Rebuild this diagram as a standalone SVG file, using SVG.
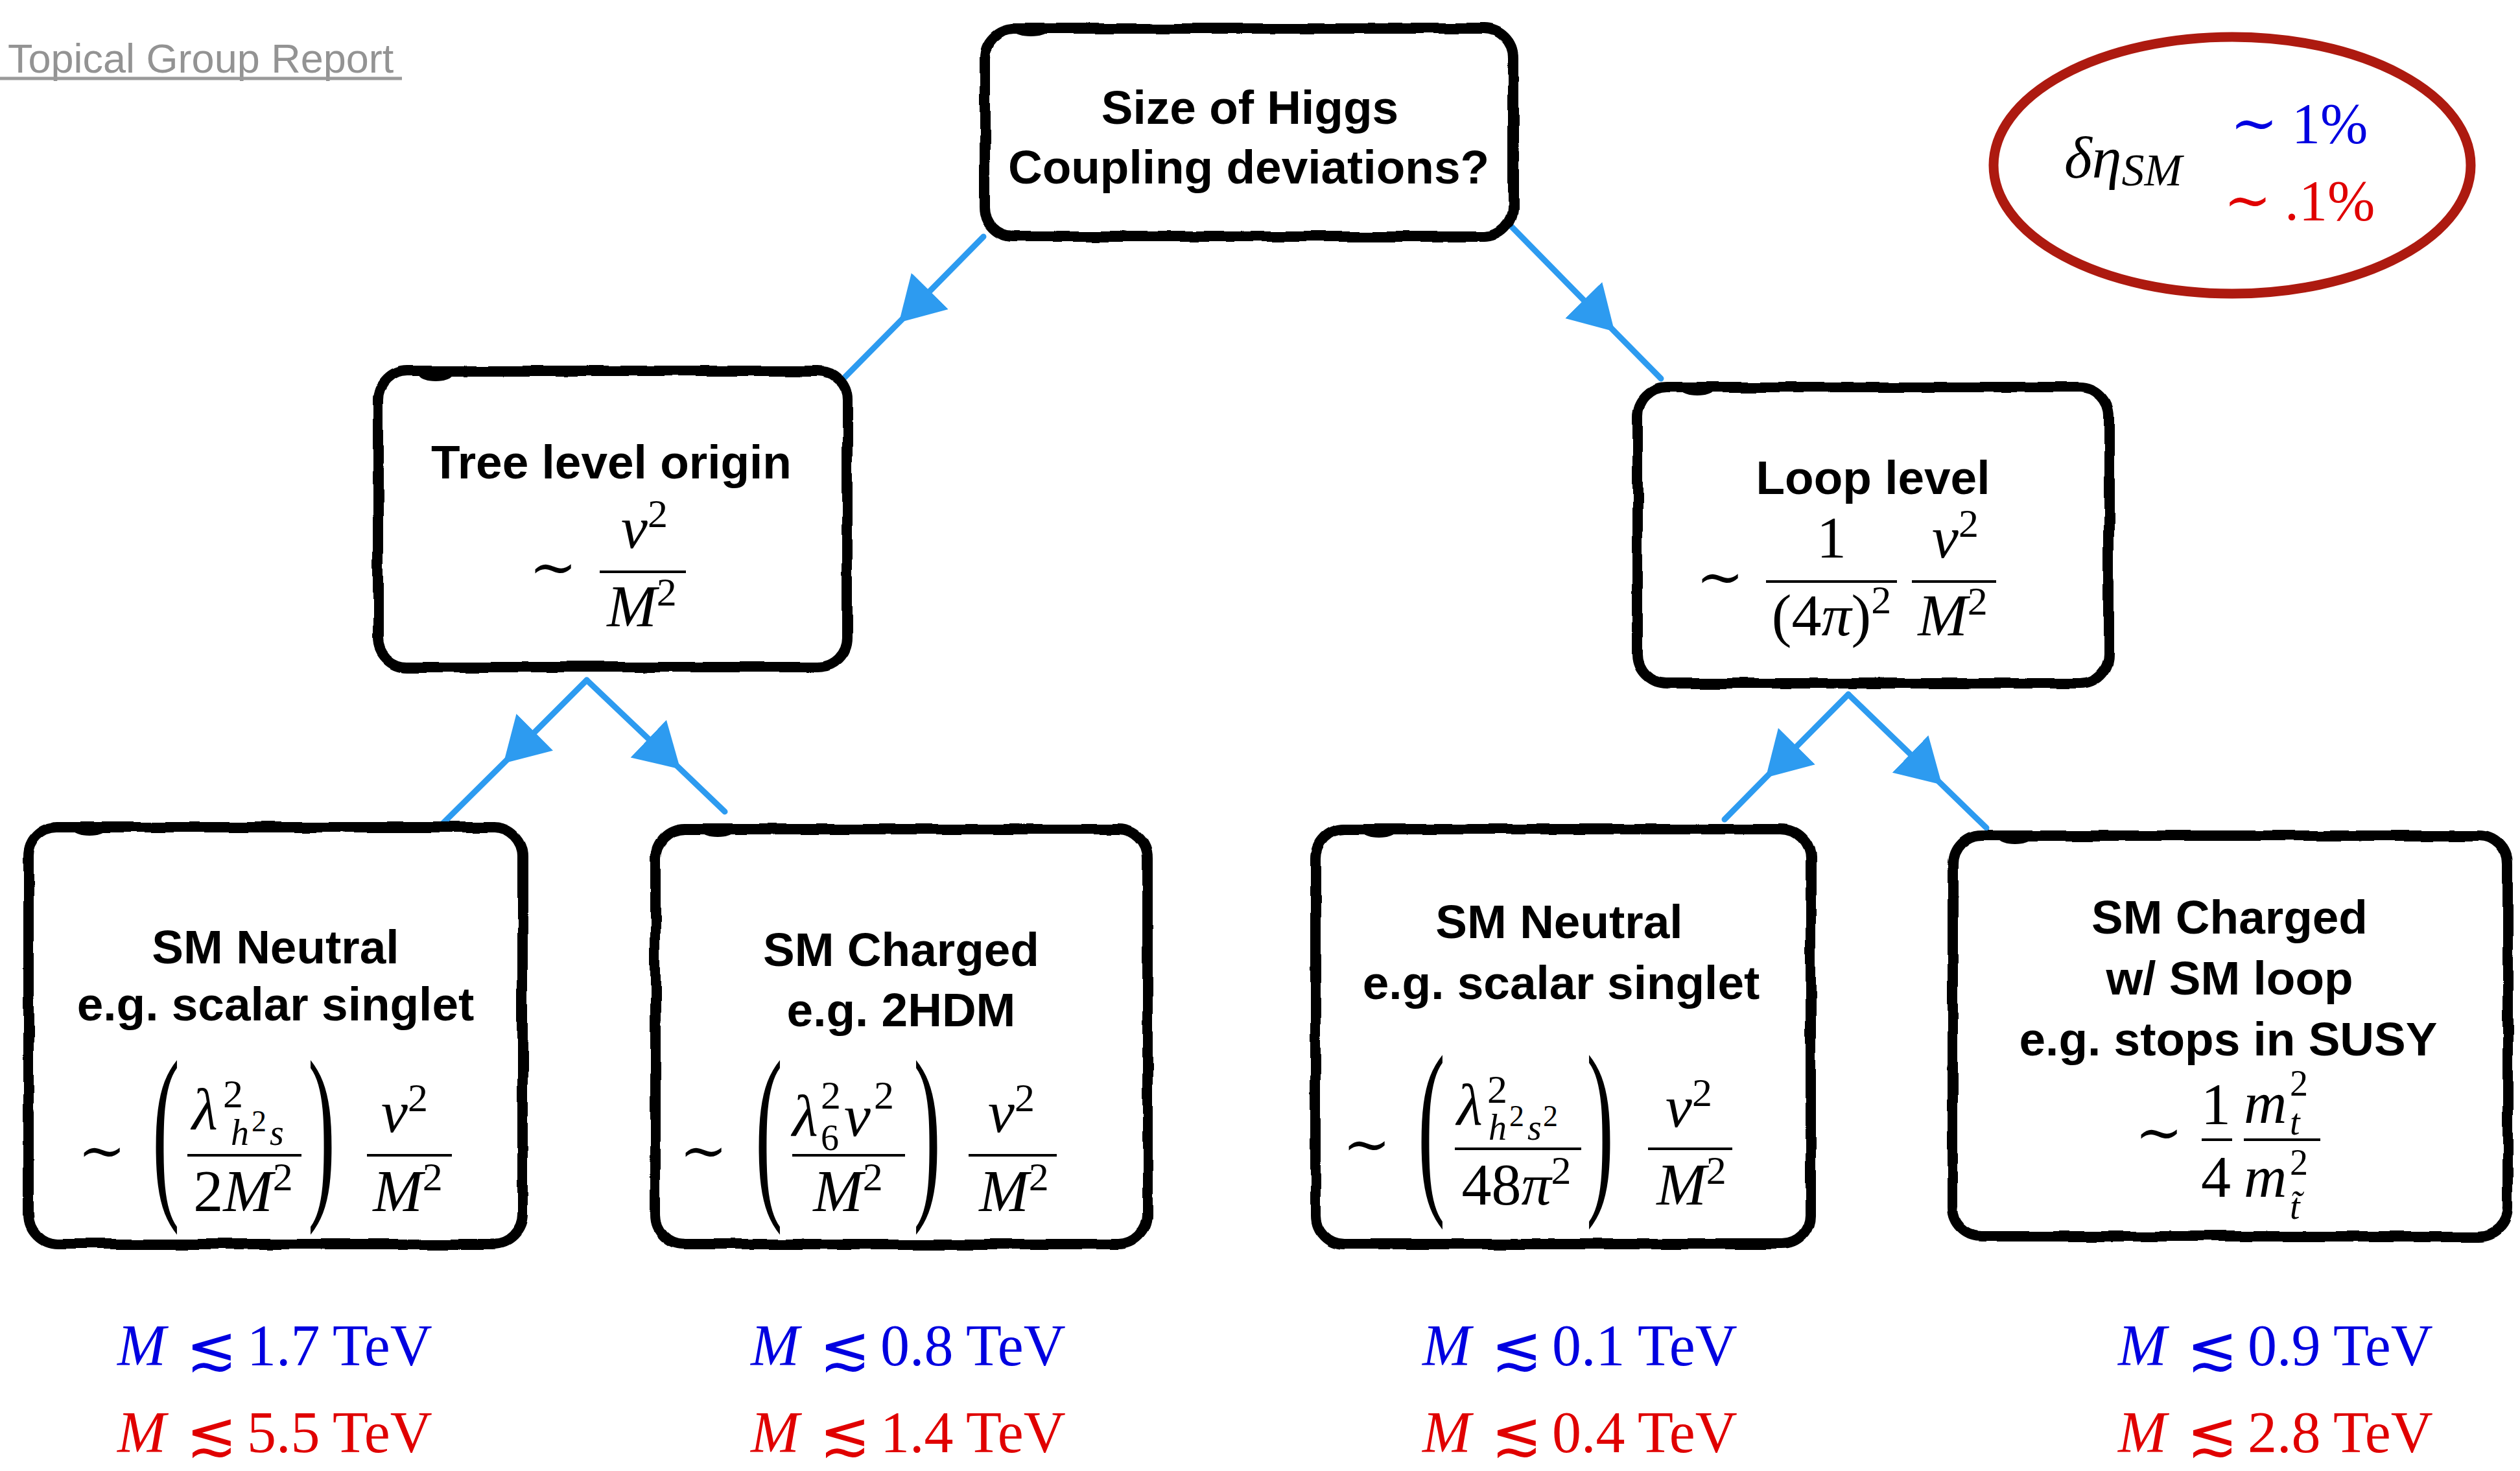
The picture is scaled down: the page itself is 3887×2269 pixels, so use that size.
<svg xmlns="http://www.w3.org/2000/svg" width="3887" height="2269" viewBox="0 0 3887 2269">
<defs>
<style>
.box{fill:#fff;stroke:#000;stroke-width:16;filter:url(#rough)}
.blob{fill:#000}
.lbl{font-family:"Liberation Sans",Arial,sans-serif;font-weight:700;font-size:73px;text-anchor:middle;fill:#000}
.m{font-family:"Liberation Serif","DejaVu Serif",serif;font-size:92px;fill:#000}
.i{font-style:italic}
.s{font-size:62px}
.s2{font-size:56px}
.ss{font-size:46px}
.mid{text-anchor:middle}
.sym{font-family:"DejaVu Serif","DejaVu Sans",serif;font-style:normal}
.tl{font-size:88px}
.le{font-size:94px}
.bar{stroke:#000;stroke-width:4}
.par{font-family:"Liberation Serif","DejaVu Serif",serif;font-size:90px;text-anchor:middle;fill:#000}
.conn{stroke:#2d9bf0;stroke-width:9;fill:none;stroke-linecap:round;marker-mid:url(#ah)}
.lim{font-family:"Liberation Serif","DejaVu Serif",serif;font-size:90px}
.blue{fill:#0000e0}
.red{fill:#e00000}
</style>
<filter id="rough" x="-3%" y="-3%" width="106%" height="106%">
<feTurbulence type="fractalNoise" baseFrequency="0.018" numOctaves="2" seed="4" result="n"/>
<feDisplacementMap in="SourceGraphic" in2="n" scale="7" xChannelSelector="R" yChannelSelector="G"/>
</filter>
<marker id="ah" markerUnits="userSpaceOnUse" markerWidth="74" markerHeight="90" viewBox="0 -45 74 90" refX="66" refY="0" orient="auto">
<path d="M0,-40 L68,0 L0,40 Z" fill="#2d9bf0"/>
</marker>
</defs>
<rect width="3887" height="2269" fill="#fff"/>

<g id="title">
<text x="12" y="112" style="font-family:'Liberation Sans',Arial,sans-serif;font-size:63px;fill:#939393">Topical Group Report</text>
<line x1="0" y1="121" x2="620" y2="121" stroke="#9a9a9a" stroke-width="5"/>
</g>

<g id="connectors">
<path class="conn" d="M1517,365 L1388,496 L1298,587"/>
<path class="conn" d="M2327,345 L2489,510 L2562,584"/>
<path class="conn" d="M905,1049 L778,1176 L669,1284"/>
<path class="conn" d="M905,1049 L1048,1185 L1118,1252"/>
<path class="conn" d="M2851,1071 L2725,1198 L2660,1264"/>
<path class="conn" d="M2851,1071 L2994,1209 L3064,1277"/>
</g>

<g id="top">
<rect class="box" x="1519" y="44" width="815" height="321" rx="45"/>
<ellipse class="blob" cx="1590" cy="46" rx="28" ry="10"/>
<text class="lbl" x="1928" y="191">Size of Higgs</text>
<text class="lbl" x="1926" y="283">Coupling deviations?</text>
</g>

<g id="sm-ellipse">
<ellipse cx="3443" cy="255" rx="368" ry="198" fill="none" stroke="#ad1a10" stroke-width="15"/>
<text class="m i" x="3184" y="274" style="font-size:92px">δη<tspan style="font-size:70px" dy="12">SM</tspan></text>
<text class="m blue" y="220" style="font-size:88px"><tspan class="sym" x="3440">∼</tspan><tspan x="3535">1%</tspan></text>
<text class="m red" y="339" style="font-size:88px"><tspan class="sym" x="3430">∼</tspan><tspan x="3524">.1%</tspan></text>
</g>

<g id="tree">
<rect class="box" x="583" y="572" width="724" height="457" rx="45"/>
<ellipse class="blob" cx="672" cy="578" rx="26" ry="10"/>
<text class="lbl" x="943" y="738">Tree level origin</text>
<text class="m sym tl mid" x="853" y="905">∼</text>
<text class="m mid" x="994" y="845"><tspan class="i">v</tspan><tspan class="s" dy="-32">2</tspan></text>
<line class="bar" x1="925" y1="882" x2="1058" y2="882"/>
<text class="m mid" x="990" y="966"><tspan class="i">M</tspan><tspan class="s" dy="-32">2</tspan></text>
</g>

<g id="loop">
<rect class="box" x="2526" y="597" width="727" height="457" rx="45"/>
<ellipse class="blob" cx="2618" cy="600" rx="26" ry="10"/>
<text class="lbl" x="2889" y="762">Loop level</text>
<text class="m sym tl mid" x="2653" y="920">∼</text>
<text class="m mid" x="2825" y="860">1</text>
<line class="bar" x1="2724" y1="897" x2="2926" y2="897"/>
<text class="m mid" x="2825" y="980">(4<tspan class="i">π</tspan>)<tspan class="s" dy="-34">2</tspan></text>
<text class="m mid" x="3016" y="860"><tspan class="i">v</tspan><tspan class="s" dy="-32">2</tspan></text>
<line class="bar" x1="2949" y1="897" x2="3079" y2="897"/>
<text class="m mid" x="3012" y="980"><tspan class="i">M</tspan><tspan class="s" dy="-32">2</tspan></text>
</g>

<g id="neutral-tree">
<rect class="box" x="44" y="1276" width="762" height="643" rx="45"/>
<ellipse class="blob" cx="138" cy="1279" rx="26" ry="10"/>
<text class="lbl" x="425" y="1486">SM Neutral</text>
<text class="lbl" x="425" y="1574">e.g. scalar singlet</text>
<text class="m sym tl mid" x="157" y="1805">∼</text>
<text class="par" transform="translate(256,1772) scale(1.4,3.3)" y="21">(</text>
<text class="m" y="1742"><tspan class="i" x="296">λ</tspan><tspan class="s" x="344" y="1708">2</tspan><tspan class="s2 i" x="356" y="1766">h</tspan><tspan class="ss" x="388" y="1745">2</tspan><tspan class="s2 i" x="416" y="1766">s</tspan></text>
<line class="bar" x1="289" y1="1782" x2="465" y2="1782"/>
<text class="m mid" x="375" y="1868">2<tspan class="i">M</tspan><tspan class="s" dy="-32">2</tspan></text>
<text class="par" transform="translate(496,1772) scale(1.4,3.3)" y="21">)</text>
<text class="m mid" x="624" y="1746"><tspan class="i">v</tspan><tspan class="s" dy="-32">2</tspan></text>
<line class="bar" x1="566" y1="1782" x2="697" y2="1782"/>
<text class="m mid" x="629" y="1868"><tspan class="i">M</tspan><tspan class="s" dy="-32">2</tspan></text>
</g>

<g id="charged-tree">
<rect class="box" x="1011" y="1279" width="759" height="640" rx="45"/>
<ellipse class="blob" cx="1107" cy="1281" rx="26" ry="10"/>
<text class="lbl" x="1390" y="1490">SM Charged</text>
<text class="lbl" x="1390" y="1583">e.g. 2HDM</text>
<text class="m sym tl mid" x="1085" y="1805">∼</text>
<text class="par" transform="translate(1186,1772) scale(1.4,3.3)" y="21">(</text>
<text class="m" y="1752"><tspan class="i" x="1222">λ</tspan><tspan class="s" x="1266" y="1710">2</tspan><tspan class="s2" x="1266" y="1774">6</tspan><tspan class="i" x="1302" y="1752">v</tspan><tspan class="s" x="1348" y="1710">2</tspan></text>
<line class="bar" x1="1222" y1="1782" x2="1396" y2="1782"/>
<text class="m mid" x="1308" y="1868"><tspan class="i">M</tspan><tspan class="s" dy="-32">2</tspan></text>
<text class="par" transform="translate(1430,1772) scale(1.4,3.3)" y="21">)</text>
<text class="m mid" x="1560" y="1746"><tspan class="i">v</tspan><tspan class="s" dy="-32">2</tspan></text>
<line class="bar" x1="1494" y1="1782" x2="1630" y2="1782"/>
<text class="m mid" x="1564" y="1868"><tspan class="i">M</tspan><tspan class="s" dy="-32">2</tspan></text>
</g>

<g id="neutral-loop">
<rect class="box" x="2029" y="1279" width="764" height="640" rx="45"/>
<ellipse class="blob" cx="2127" cy="1282" rx="26" ry="10"/>
<text class="lbl" x="2405" y="1447">SM Neutral</text>
<text class="lbl" x="2408" y="1541">e.g. scalar singlet</text>
<text class="m sym tl mid" x="2108" y="1795">∼</text>
<text class="par" transform="translate(2208,1764) scale(1.4,3.3)" y="21">(</text>
<text class="m" y="1735"><tspan class="i" x="2247">λ</tspan><tspan class="s" x="2294" y="1701">2</tspan><tspan class="s2 i" x="2296" y="1758">h</tspan><tspan class="ss" x="2328" y="1737">2</tspan><tspan class="s2 i" x="2356" y="1758">s</tspan><tspan class="ss" x="2380" y="1737">2</tspan></text>
<line class="bar" x1="2244" y1="1772" x2="2439" y2="1772"/>
<text class="m mid" x="2339" y="1858">48<tspan class="i">π</tspan><tspan class="s" dy="-32">2</tspan></text>
<text class="par" transform="translate(2468,1764) scale(1.4,3.3)" y="21">)</text>
<text class="m mid" x="2605" y="1738"><tspan class="i">v</tspan><tspan class="s" dy="-32">2</tspan></text>
<line class="bar" x1="2542" y1="1772" x2="2672" y2="1772"/>
<text class="m mid" x="2609" y="1858"><tspan class="i">M</tspan><tspan class="s" dy="-32">2</tspan></text>
</g>

<g id="charged-loop">
<rect class="box" x="3012" y="1289" width="856" height="618" rx="45"/>
<ellipse class="blob" cx="3108" cy="1292" rx="26" ry="10"/>
<text class="lbl" x="3439" y="1440">SM Charged</text>
<text class="lbl" x="3439" y="1534">w/ SM loop</text>
<text class="lbl" x="3437" y="1628">e.g. stops in SUSY</text>
<text class="m sym tl mid" x="3330" y="1777">∼</text>
<text class="m mid" x="3418" y="1734">1</text>
<line class="bar" x1="3396" y1="1758" x2="3443" y2="1758"/>
<text class="m mid" x="3418" y="1846">4</text>
<text class="m" y="1732"><tspan class="i" x="3461">m</tspan><tspan class="s2" x="3532" y="1690">2</tspan><tspan class="s2 i" x="3532" y="1750">t</tspan></text>
<line class="bar" x1="3461" y1="1758" x2="3579" y2="1758"/>
<text class="m" y="1846"><tspan class="i" x="3461">m</tspan><tspan class="s2" x="3532" y="1812">2</tspan><tspan class="s2 i" x="3532" y="1880">t̃</tspan></text>
</g>

<g id="limits">
<g transform="translate(181,0)">
<text class="lim blue" y="2106"><tspan class="i" x="0">M</tspan><tspan class="sym le" x="106" y="2112">≲</tspan><tspan x="200" y="2106">1.7</tspan><tspan x="332">TeV</tspan></text>
<text class="lim red" y="2240"><tspan class="i" x="0">M</tspan><tspan class="sym le" x="106" y="2244">≲</tspan><tspan x="200" y="2240">5.5</tspan><tspan x="332">TeV</tspan></text>
</g>
<g transform="translate(1158,0)">
<text class="lim blue" y="2106"><tspan class="i" x="0">M</tspan><tspan class="sym le" x="106" y="2112">≲</tspan><tspan x="200" y="2106">0.8</tspan><tspan x="332">TeV</tspan></text>
<text class="lim red" y="2240"><tspan class="i" x="0">M</tspan><tspan class="sym le" x="106" y="2244">≲</tspan><tspan x="200" y="2240">1.4</tspan><tspan x="332">TeV</tspan></text>
</g>
<g transform="translate(2194,0)">
<text class="lim blue" y="2106"><tspan class="i" x="0">M</tspan><tspan class="sym le" x="106" y="2112">≲</tspan><tspan x="200" y="2106">0.1</tspan><tspan x="332">TeV</tspan></text>
<text class="lim red" y="2240"><tspan class="i" x="0">M</tspan><tspan class="sym le" x="106" y="2244">≲</tspan><tspan x="200" y="2240">0.4</tspan><tspan x="332">TeV</tspan></text>
</g>
<g transform="translate(3267,0)">
<text class="lim blue" y="2106"><tspan class="i" x="0">M</tspan><tspan class="sym le" x="106" y="2112">≲</tspan><tspan x="200" y="2106">0.9</tspan><tspan x="332">TeV</tspan></text>
<text class="lim red" y="2240"><tspan class="i" x="0">M</tspan><tspan class="sym le" x="106" y="2244">≲</tspan><tspan x="200" y="2240">2.8</tspan><tspan x="332">TeV</tspan></text>
</g>
</g>
</svg>
